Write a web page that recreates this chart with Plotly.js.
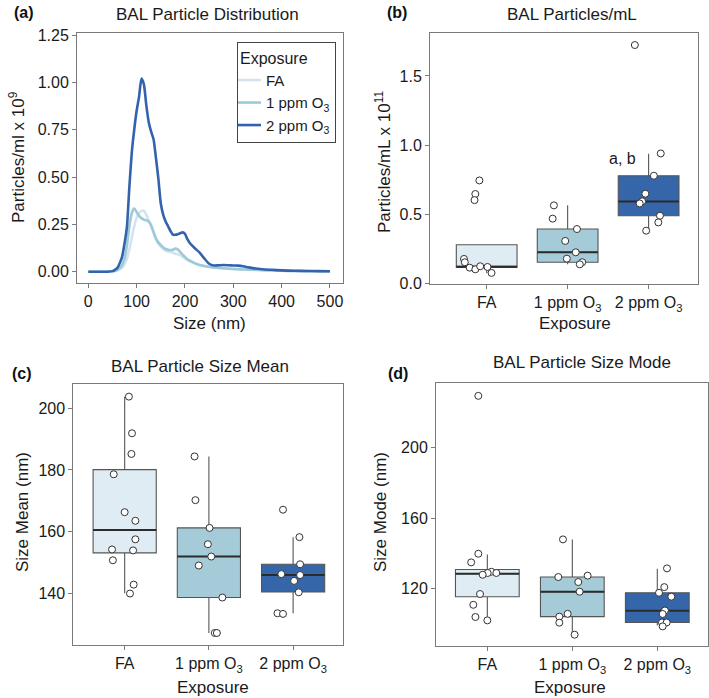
<!DOCTYPE html>
<html>
<head>
<meta charset="utf-8">
<script src="https://cdn.plot.ly/plotly-3.0.1.min.js"></script>
<style>html,body{margin:0;padding:0;background:#fff;}#chart{width:709px;height:698px;}</style>
</head>
<body>
<div id="chart"></div>
<script>
// ---------- DATA ----------
const groups = ["FA", "1 ppm O<sub>3</sub>", "2 ppm O<sub>3</sub>"];

// Panel (a): size distribution
const sizes = [0,20,40,50,55,60,65,70,75,80,85,90,95,100,105,110,115,120,125,130,135,140,145,150,155,160,165,170,175,180,185,190,195,200,205,210,220,230,240,250,260,270,280,290,300,310,320,330,340,360,380,400,425,450,475,500];
const distFA = [0,0,0,0.001,0.003,0.006,0.012,0.022,0.04,0.07,0.12,0.18,0.24,0.285,0.31,0.32,0.322,0.30,0.27,0.24,0.205,0.17,0.148,0.132,0.12,0.112,0.107,0.104,0.10,0.095,0.092,0.088,0.08,0.07,0.062,0.055,0.045,0.036,0.03,0.026,0.023,0.021,0.019,0.017,0.015,0.014,0.013,0.012,0.011,0.009,0.007,0.005,0.004,0.003,0.002,0.001];
const dist1ppm = [0,0,0,0.002,0.005,0.01,0.02,0.035,0.07,0.14,0.24,0.31,0.333,0.315,0.295,0.283,0.275,0.272,0.265,0.245,0.21,0.175,0.155,0.14,0.128,0.12,0.116,0.114,0.116,0.122,0.118,0.105,0.09,0.078,0.066,0.058,0.045,0.035,0.03,0.025,0.022,0.02,0.018,0.016,0.014,0.013,0.012,0.011,0.01,0.008,0.006,0.005,0.004,0.003,0.002,0.001];
const dist2ppm = [0,0,0,0.003,0.01,0.02,0.045,0.08,0.15,0.24,0.45,0.63,0.75,0.85,0.925,1.02,0.99,0.88,0.79,0.74,0.70,0.60,0.49,0.36,0.30,0.265,0.24,0.215,0.196,0.195,0.198,0.203,0.208,0.20,0.172,0.152,0.125,0.102,0.07,0.042,0.033,0.034,0.035,0.034,0.033,0.032,0.029,0.024,0.019,0.013,0.01,0.007,0.005,0.004,0.003,0.002];

// Panel (b): particles/mL x 1e11 — box stats [FA, 1 ppm, 2 ppm]
const bQ1 = [0.117, 0.154, 0.49];
const bMed = [0.122, 0.226, 0.593];
const bQ3 = [0.281, 0.394, 0.779];
const bLo = [0.077, 0.139, 0.382];
const bHi = [0.281, 0.565, 0.937];
const bPtsFA = [0.745,0.647,0.603,0.178,0.154,0.115,0.103,0.125,0.120,0.077];
const bJitFA = [-0.09,-0.14,-0.15,-0.28,-0.27,-0.21,-0.14,-0.08,0.01,0.06];
const bPts1 = [0.565,0.469,0.394,0.308,0.226,0.18,0.154,0.139];
const bJit1 = [-0.17,-0.185,0.115,-0.03,0.10,-0.01,0.18,0.15];
const bPts2 = [1.723,0.94,0.779,0.649,0.594,0.579,0.49,0.442,0.382];
const bJit2 = [-0.17,0.15,0.065,-0.04,-0.08,-0.11,0.14,0.12,-0.03];

// Panel (c): size mean (nm)
const cQ1 = [153.1, 138.6, 140.4];
const cMed = [160.5, 151.9, 145.9];
const cQ3 = [180.1, 161.2, 149.4];
const cLo = [140.0, 127.1, 133.5];
const cHi = [203.8, 184.4, 158.2];
const cPtsFA = [203.8,191.9,185.2,178.6,166.3,163.5,157.5,154.2,153.9,150.7,142.8,139.9];
const cJitFA = [0.05,0.087,0.08,-0.13,0.0,0.127,0.127,-0.15,0.10,-0.14,0.107,0.063];
const cPts1 = [184.4,170.2,161.2,155.9,151.9,149.0,138.6,127.1,127.1];
const cJit1 = [-0.17,-0.16,0.008,-0.012,0.028,-0.12,0.16,0.07,0.095];
const cPts2 = [167.1,158.2,149.4,146.2,145.9,144.0,140.3,133.5,133.3];
const cJit2 = [-0.12,0.075,0.083,-0.14,0.083,0.012,0.067,-0.186,-0.12];

// Panel (d): size mode (nm)
const dQ1 = [115.5, 104.2, 100.9];
const dMed = [128.5, 118.3, 107.5];
const dQ3 = [130.9, 126.6, 117.7];
const dLo = [102.1, 94.0, 99.2];
const dHi = [139.4, 147.9, 131.3];
const dPtsFA = [229.1,139.8,134.9,129.6,128.9,127.9,128.9,117.0,110.9,104.0,102.1];
const dJitFA = [-0.106,-0.106,-0.19,0.047,0.004,-0.055,0.106,-0.086,-0.165,-0.14,0.0];
const dPts1 = [147.9,126.6,127.4,123.8,118.3,105.8,104.2,100.8,94.0];
const dJit1 = [-0.11,-0.165,0.18,0.07,0.086,-0.055,-0.153,-0.153,0.027];
const dPts2 = [131.5,120.9,117.7,115.5,107.7,105.7,100.9,100.9,98.7];
const dJit2 = [0.114,0.082,0.02,0.165,0.09,0.063,0.055,0.11,0.063];

// ---------- STYLE ----------
const FONT = "Liberation Sans, Arial, Helvetica, sans-serif";
const lineColors = ["#d3e4ef", "#9ccad9", "#3463ad"];
const boxFills = ["#e0ecf4", "#a5cad8", "#3566aa"];
const BOXW = 0.75;
const TICK = 16, TITLE = 17;

const traces = [];
// Panel a lines
const dists = [distFA, dist1ppm, dist2ppm];
const legendNames = ["FA", "1 ppm O<sub>3</sub>", "2 ppm O<sub>3</sub>"];
dists.forEach((d, i) => {
  traces.push({
    type: "scatter", mode: "lines", x: sizes, y: d, name: legendNames[i],
    line: {color: lineColors[i], width: 2.6, shape: "spline", smoothing: 0.6},
    xaxis: "x", yaxis: "y", showlegend: true, hoverinfo: "skip"
  });
});

function addBoxPanel(ax, q1, med, q3, lo, hi, pts, jits) {
  const xa = "x" + ax, ya = "y" + ax;
  for (let i = 0; i < 3; i++) {
    traces.push({
      type: "box", x: [i], q1: [q1[i]], median: [med[i]], q3: [q3[i]],
      lowerfence: [lo[i]], upperfence: [hi[i]], width: BOXW, whiskerwidth: 0,
      fillcolor: boxFills[i], line: {color: "#555555", width: 1.1},
      boxpoints: false, xaxis: xa, yaxis: ya, showlegend: false, hoverinfo: "skip"
    });
  }
  // thick median lines
  const mx = [], my = [];
  for (let i = 0; i < 3; i++) {
    mx.push(i - BOXW / 2, i + BOXW / 2, null);
    my.push(med[i], med[i], null);
  }
  traces.push({type: "scatter", mode: "lines", x: mx, y: my, line: {color: "#2b2b2b", width: 2},
    xaxis: xa, yaxis: ya, showlegend: false, hoverinfo: "skip"});
  // jittered points
  const px = [], py = [];
  for (let i = 0; i < 3; i++) {
    pts[i].forEach((v, k) => { px.push(i + jits[i][k]); py.push(v); });
  }
  traces.push({type: "scatter", mode: "markers", x: px, y: py,
    marker: {size: 7, color: "#ffffff", line: {color: "#333333", width: 1}},
    xaxis: xa, yaxis: ya, showlegend: false, hoverinfo: "skip", cliponaxis: false});
}
addBoxPanel(2, bQ1, bMed, bQ3, bLo, bHi, [bPtsFA, bPts1, bPts2], [bJitFA, bJit1, bJit2]);
addBoxPanel(3, cQ1, cMed, cQ3, cLo, cHi, [cPtsFA, cPts1, cPts2], [cJitFA, cJit1, cJit2]);
addBoxPanel(4, dQ1, dMed, dQ3, dLo, dHi, [dPtsFA, dPts1, dPts2], [dJitFA, dJit1, dJit2]);

const W = 709, H = 698;
const fx = p => p / W;
const fy = p => 1 - p / H;

function axisBase(extra) {
  return Object.assign({
    showline: true, linecolor: "#7a7a7a", linewidth: 1, mirror: true,
    ticks: "outside", ticklen: 4, tickcolor: "#7a7a7a", tickwidth: 1,
    showgrid: false, zeroline: false, fixedrange: true,
    tickfont: {family: FONT, size: TICK, color: "#1a1a1a"}
  }, extra);
}

const catTicks = {tickmode: "array", tickvals: [0, 1, 2], ticktext: groups};

const layout = {
  width: W, height: H, margin: {l: 0, r: 0, t: 0, b: 0},
  paper_bgcolor: "#ffffff", plot_bgcolor: "#ffffff",
  font: {family: FONT, size: TICK, color: "#1a1a1a"},
  showlegend: true,
  legend: {
    x: fx(237), y: fy(42), xanchor: "left", yanchor: "top",
    bgcolor: "#ffffff", bordercolor: "#444444", borderwidth: 1,
    font: {family: FONT, size: 15, color: "#1a1a1a"},
    title: {text: "Exposure", font: {family: FONT, size: 16, color: "#1a1a1a"}},
    tracegroupgap: 0, itemwidth: 30, indentation: -12
  },
  xaxis: axisBase({domain: [fx(77), fx(343)], range: [-23.4, 527], anchor: "y",
    tickmode: "array", tickvals: [0, 100, 200, 300, 400, 500]}),
  yaxis: axisBase({domain: [fy(283), fy(33)], range: [-0.0597, 1.261], anchor: "x",
    tickmode: "array", tickvals: [0, 0.25, 0.5, 0.75, 1.0, 1.25], tickformat: ".2f"}),
  xaxis2: axisBase(Object.assign({domain: [fx(430), fx(698)], range: [-0.7, 2.61], anchor: "y2"}, catTicks)),
  yaxis2: axisBase({domain: [fy(284), fy(33)], range: [-0.003, 1.81], anchor: "x2",
    tickmode: "array", tickvals: [0, 0.5, 1.0, 1.5], tickformat: ".1f"}),
  xaxis3: axisBase(Object.assign({domain: [fx(73.3), fx(343.3)], range: [-0.61, 2.596], anchor: "y3"}, catTicks)),
  yaxis3: axisBase({domain: [fy(645), fy(384.3)], range: [123.2, 207.8], anchor: "x3",
    tickmode: "array", tickvals: [140, 160, 180, 200]}),
  xaxis4: axisBase(Object.assign({domain: [fx(436), fx(707.7)], range: [-0.604, 2.593], anchor: "y4"}, catTicks)),
  yaxis4: axisBase({domain: [fy(646), fy(383.3)], range: [87.6, 236.2], anchor: "x4",
    tickmode: "array", tickvals: [120, 160, 200]}),
  annotations: []
};

function ann(text, px, py, opts) {
  layout.annotations.push(Object.assign({
    text: text, x: fx(px), y: fy(py), xref: "paper", yref: "paper",
    xanchor: "center", yanchor: "middle", showarrow: false,
    font: {family: FONT, size: TITLE, color: "#1a1a1a"}
  }, opts || {}));
}
const bold = {font: {family: FONT, size: 16, color: "#111111", weight: "bold"}};
// panel letters
ann("<b>(a)</b>", 24, 13, bold);
ann("<b>(b)</b>", 397, 13, bold);
ann("<b>(c)</b>", 22, 373, bold);
ann("<b>(d)</b>", 398, 373, bold);
// panel titles
ann("BAL Particle Distribution", 207.5, 15);
ann("BAL Particles/mL", 572, 15);
ann("BAL Particle Size Mean", 200, 367);
ann("BAL Particle Size Mode", 582, 362);
// axis titles
ann("Particles/ml x 10<sup>9</sup>", 17, 157, {textangle: -90});
ann("Size (nm)", 209, 323);
ann("Particles/mL x 10<sup>11</sup>", 383, 162, {textangle: -90});
ann("Exposure", 575, 323);
ann("Size Mean (nm)", 22, 512, {textangle: -90});
ann("Exposure", 213, 687);
ann("Size Mode (nm)", 380, 512, {textangle: -90});
ann("Exposure", 570, 687);
// significance label
layout.annotations.push({text: "a, b", x: 1.68, y: 0.9, xref: "x2", yref: "y2",
  showarrow: false, xanchor: "center", yanchor: "middle",
  font: {family: FONT, size: 16, color: "#1a1a1a"}});

Plotly.newPlot("chart", traces, layout, {staticPlot: true, displayModeBar: false});
</script>
</body>
</html>
